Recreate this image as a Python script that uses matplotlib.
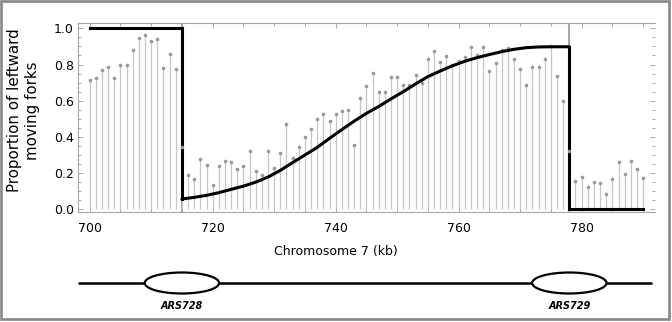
import matplotlib
matplotlib.use("Agg")
import matplotlib.pyplot as plt
from matplotlib.patches import Ellipse, Rectangle
from matplotlib.ticker import MultipleLocator

# Fork-direction measurements along chromosome 7 (1 kb bins)
position_kb = list(range(700, 791))
leftward = [
    0.713, 0.727, 0.768, 0.786, 0.725, 0.799, 0.797, 0.882, 0.948, 0.961,
    0.930, 0.943, 0.782, 0.858, 0.777, 0.343, 0.188, 0.166, 0.276, 0.246,
    0.136, 0.239, 0.267, 0.261, 0.221, 0.241, 0.322, 0.213, 0.189, 0.324,
    0.230, 0.313, 0.473, 0.285, 0.346, 0.398, 0.445, 0.501, 0.527, 0.490,
    0.527, 0.545, 0.547, 0.357, 0.615, 0.679, 0.751, 0.646, 0.646, 0.729,
    0.733, 0.689, 0.689, 0.744, 0.698, 0.829, 0.873, 0.812, 0.847, 0.799,
    0.821, 0.843, 0.895, 0.852, 0.899, 0.762, 0.808, 0.882, 0.893, 0.829,
    0.777, 0.685, 0.786, 0.786, 0.832, 0.900, 0.736, 0.600, 0.322, 0.156,
    0.180, 0.122, 0.149, 0.144, 0.086, 0.166, 0.261, 0.193, 0.269, 0.221,
    0.175,
]

# Model prediction between the two origins
model_kb = [715, 717, 719, 721, 723, 725, 727, 729, 731, 733, 735, 737, 739,
            741, 743, 745, 747, 749, 751, 753, 755, 757, 759, 761, 763, 765,
            767, 769, 771, 773, 775, 778]
model_val = [0.057, 0.066, 0.077, 0.092, 0.110, 0.128, 0.150, 0.178, 0.215,
             0.258, 0.300, 0.342, 0.392, 0.440, 0.487, 0.530, 0.568, 0.610,
             0.650, 0.693, 0.733, 0.764, 0.793, 0.818, 0.838, 0.855, 0.871,
             0.884, 0.893, 0.897, 0.898, 0.898]
left_plateau = 1.0
right_plateau = 0.0

origin_kb = [715, 778]
origin_names = ["ARS728", "ARS729"]

x_ticks = [700, 720, 740, 760, 780]
y_ticks = [0.0, 0.2, 0.4, 0.6, 0.8, 1.0]

W, H = 672, 322
fig = plt.figure(figsize=(W / 100, H / 100), dpi=100)
plt.rcParams["font.family"] = ["DejaVu Sans"]


def px_axes(left, top, right, bottom):
    return fig.add_axes([left / W, 1 - bottom / H, (right - left) / W, (bottom - top) / H])


XLIM = (698.1, 791.85)
ax = px_axes(78, 22.7, 654.5, 212.3)
ax.set_xlim(*XLIM)
ax.set_ylim(-0.0166, 1.031)

frame_col = "#a8a8a8"
for side in ("left", "bottom", "top"):
    ax.spines[side].set_color(frame_col)
    ax.spines[side].set_linewidth(0.8)
ax.spines["right"].set_visible(False)

ax.set_xticks(x_ticks)
ax.set_yticks(y_ticks)
ax.set_yticklabels([f"{v:.1f}" for v in y_ticks])
ax.xaxis.set_minor_locator(MultipleLocator(5))
ax.yaxis.set_minor_locator(MultipleLocator(0.05))
ax.tick_params(which="both", direction="in", top=True, right=True,
               color=frame_col, width=0.7, labelsize=9)
ax.tick_params(which="major", length=3.4)
ax.tick_params(which="minor", length=2.2)
ax.tick_params(axis="x", pad=7)
ax.tick_params(axis="y", pad=3)

# origin markers
for kb in origin_kb:
    ax.axvline(kb, color="#a9a9a9", lw=1.5, zorder=1.5)

# stems and points
ax.vlines(position_kb, 0, leftward, color="#c6c6c6", lw=0.9, zorder=2)
ax.plot(position_kb, leftward, ls="none", marker="o", ms=2.6,
        mfc="#999999", mec="none", zorder=5)

# model: plateau, drop, rising curve, drop, plateau
lw_model = 2.2
ax.plot([position_kb[0], origin_kb[0], origin_kb[0]],
        [left_plateau, left_plateau, model_val[0]],
        color="black", lw=lw_model, solid_capstyle="projecting",
        solid_joinstyle="miter", zorder=4)
ax.plot(model_kb, model_val, color="black", lw=lw_model,
        solid_capstyle="round", solid_joinstyle="round", zorder=6)
ax.plot([origin_kb[1], origin_kb[1], position_kb[-1]],
        [model_val[-1], right_plateau, right_plateau],
        color="black", lw=lw_model, solid_capstyle="projecting",
        solid_joinstyle="miter", zorder=4)

fig.text(336 / W, 1 - 251 / H, "Chromosome 7 (kb)", ha="center", va="center", fontsize=9)
fig.text(15 / W, 1 - 110 / H, "Proportion of leftward", rotation=90,
         ha="center", va="center", fontsize=10.8)
fig.text(33 / W, 1 - 111 / H, "moving forks", rotation=90,
         ha="center", va="center", fontsize=10.8)

# chromosome map with origins
ax2 = px_axes(78, 262, 654.5, 312)
ax2.set_xlim(*XLIM)
ax2.set_ylim(0, 50)
ax2.axis("off")
ax2.plot([XLIM[0], 791.45], [29, 29], color="black", lw=1.8, solid_capstyle="butt", zorder=1)
for kb, name in zip(origin_kb, origin_names):
    ax2.add_patch(Ellipse((kb, 29), width=12.1, height=21, facecolor="white",
                          edgecolor="black", lw=1.6, zorder=2))
    ax2.text(kb, 6.3, name, ha="center", va="center", fontsize=7,
             style="italic", weight="bold",
             family=["Liberation Sans Narrow", "DejaVu Sans"])

# outer frame
fig.patches.append(Rectangle((1 / W, 3 / H), 668.3 / W, 318 / H,
                             transform=fig.transFigure, fill=False,
                             edgecolor="#878787", lw=1.9))

fig.savefig("out.png", dpi=100)
